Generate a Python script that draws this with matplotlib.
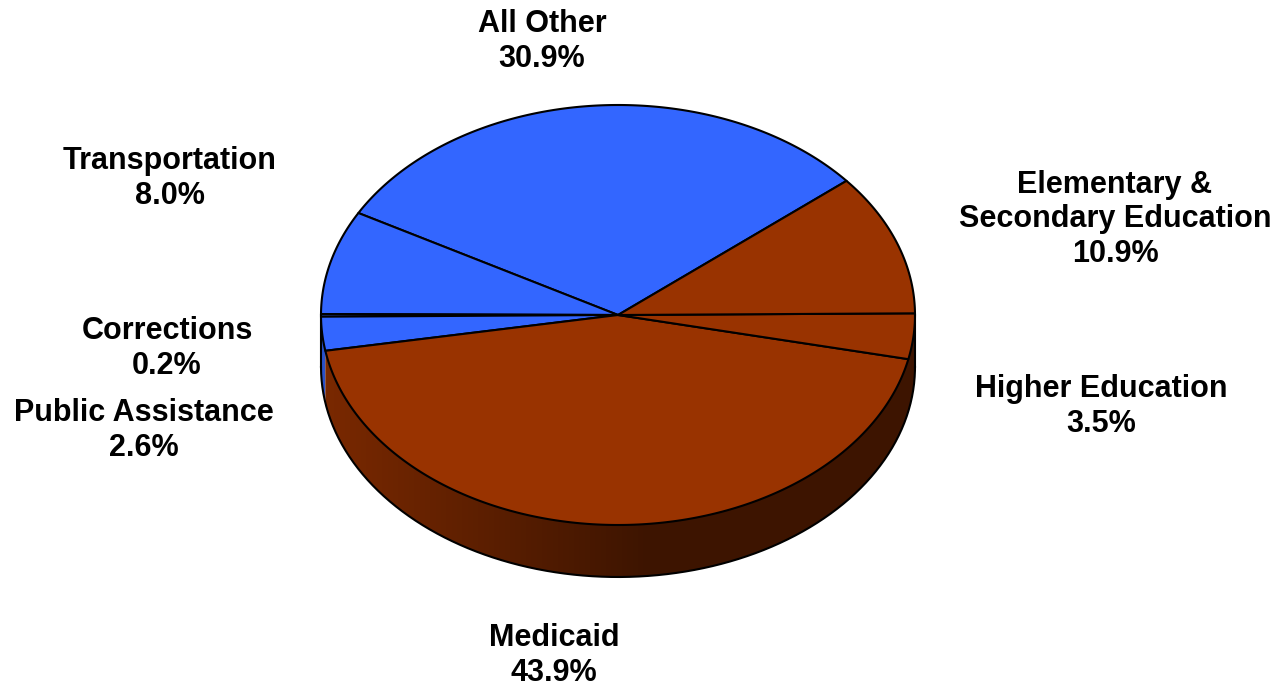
import numpy as np
import matplotlib
matplotlib.use("Agg")
import matplotlib.pyplot as plt
from matplotlib.patches import Polygon

# slices in counter-clockwise order, starting at the All Other / Elementary boundary
labels = ["All Other", "Transportation", "Corrections", "Public Assistance",
          "Medicaid", "Higher Education", "Elementary &\nSecondary Education"]
shares = [30.9, 8.0, 0.2, 2.6, 43.9, 3.5, 10.9]
blue = "#3366FF"
brown = "#993300"
colors = [blue, blue, blue, blue, brown, brown, brown]

# label anchor (centre x, last-line baseline y) in pixels
label_pos = [(542, 67), (170, 204), (167, 374), (144, 456),
             (554, 681), (1101, 432), (1115, 262)]

plt.rcParams['font.family'] = ['Liberation Sans', 'DejaVu Sans']

fig = plt.figure(figsize=(12.78, 6.86), dpi=100)
ax = fig.add_axes([0, 0, 1, 1])

cx, cy = 618, 315
rx, ry = 297, 210
depth = 52
start = 39.7

bounds = start + np.concatenate([[0], np.cumsum(shares)]) / 100 * 360


def pt(t, dz=0):
    r = np.radians(t)
    return cx + rx * np.cos(r), cy - ry * np.sin(r) + dz


# visible front part of each slice (180..360 deg), merged by colour
runs = []
for a0, a1, col in zip(bounds[:-1], bounds[1:], colors):
    for k in (0, 360):
        lo = max(a0 - k, 180)
        hi = min(a1 - k, 360)
        if hi <= lo:
            continue
        if runs and runs[-1][2] == col and abs(runs[-1][1] - lo) < 1e-6:
            runs[-1][1] = hi
        else:
            runs.append([lo, hi, col])

# horizontal shading of the side wall
xs = np.linspace(-1, 1, 600)
fac = np.interp(xs, [-1, 0.1, 1], [0.8, 0.4, 0.4])

for lo, hi, col in runs:
    ts = np.linspace(lo, hi, max(int(hi - lo) * 2, 4))
    p = [pt(t) for t in ts] + [pt(t, depth) for t in ts[::-1]]
    poly = Polygon(p, closed=True, facecolor='none', edgecolor='none')
    ax.add_patch(poly)
    rgb = np.array(matplotlib.colors.to_rgb(col))
    img = (fac[:, None] * rgb[None, :])[None, :, :]
    im = ax.imshow(img, extent=(cx - rx, cx + rx, cy + ry + depth + 2, cy - 40),
                   aspect='auto', interpolation='bilinear', zorder=1)
    im.set_clip_path(poly)

ax.set_xlim(0, 1278)
ax.set_ylim(686, 0)
ax.axis('off')

# side outline
tb = np.linspace(180, 360, 200)
bx, by = zip(*[pt(t, depth) for t in tb])
ax.plot(bx, by, color='black', lw=1.5, zorder=3)
for t in (180, 360):
    x0, y0 = pt(t)
    ax.plot([x0, x0], [y0, y0 + depth], color='black', lw=1.5, zorder=3)

# top face wedges
for a0, a1, col in zip(bounds[:-1], bounds[1:], colors):
    ts = np.linspace(a0, a1, max(int(a1 - a0) * 2, 4))
    p = [(cx, cy)] + [pt(t) for t in ts]
    ax.add_patch(Polygon(p, closed=True, facecolor=col, edgecolor='black',
                         lw=1.5, joinstyle='round', zorder=4))

# labels
for lab, v, (x, y) in zip(labels, shares, label_pos):
    ax.text(x, y, f"{lab}\n{v:.1f}%", ha='center', va='baseline',
            multialignment='center', fontsize=22, fontweight='bold',
            linespacing=1.2, color='black', zorder=5)

fig.savefig("out.png", dpi=100)
